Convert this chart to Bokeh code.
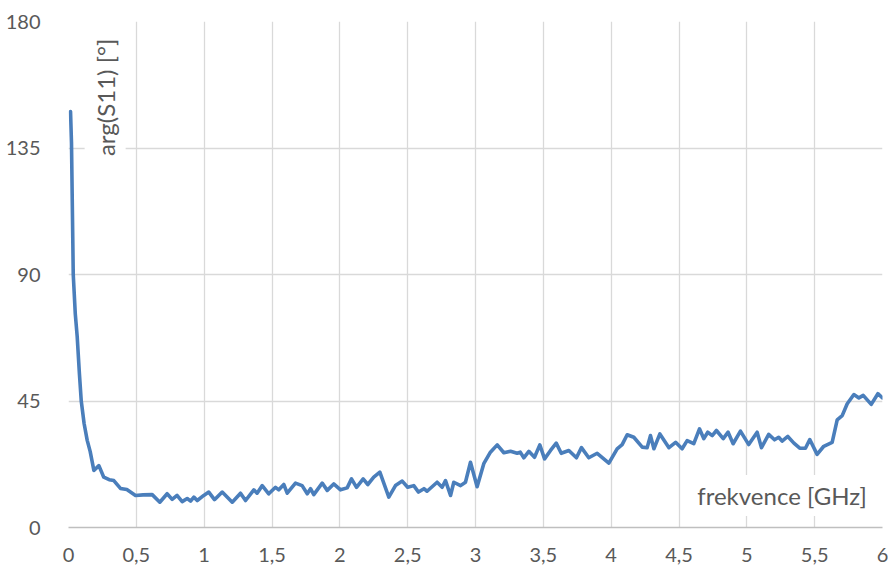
import math
from bokeh.plotting import figure
from bokeh.models import Label, FixedTicker, Range1d, ColumnDataSource
from bokeh.embed import file_html
from bokeh.resources import INLINE

# frequency [GHz]
freq = [0.015, 0.022, 0.035, 0.05, 0.064, 0.08, 0.094, 0.115, 0.138, 0.16, 0.187, 0.224,
        0.26, 0.3, 0.334, 0.383, 0.43, 0.494, 0.55, 0.617, 0.673, 0.727, 0.764, 0.80,
        0.838, 0.875, 0.9, 0.924, 0.949, 0.997, 1.034, 1.076, 1.133, 1.207, 1.268, 1.305,
        1.366, 1.39, 1.428, 1.476, 1.526, 1.55, 1.587, 1.612, 1.673, 1.722, 1.76, 1.784,
        1.808, 1.87, 1.907, 1.955, 2.005, 2.054, 2.086, 2.123, 2.172, 2.206, 2.25, 2.295,
        2.361, 2.41, 2.46, 2.5, 2.545, 2.58, 2.62, 2.643, 2.717, 2.754, 2.779, 2.816,
        2.84, 2.89, 2.926, 2.963, 3.012, 3.061, 3.11, 3.16, 3.209, 3.258, 3.307, 3.33,
        3.356, 3.393, 3.435, 3.474, 3.509, 3.553, 3.595, 3.632, 3.688, 3.744, 3.781, 3.835,
        3.897, 3.983, 4.044, 4.081, 4.118, 4.167, 4.229, 4.265, 4.29, 4.315, 4.359, 4.426,
        4.475, 4.523, 4.56, 4.609, 4.651, 4.683, 4.712, 4.745, 4.776, 4.826, 4.862, 4.899,
        4.953, 5.014, 5.076, 5.108, 5.161, 5.204, 5.235, 5.26, 5.302, 5.347, 5.39, 5.432,
        5.464, 5.518, 5.567, 5.629, 5.666, 5.703, 5.74, 5.789, 5.826, 5.858, 5.917, 5.966, 6.0]

# arg(S11) [deg]
phase = [148, 137, 90, 76, 68, 55, 45, 37, 31, 27, 20.3, 22,
         17.9, 17, 16.7, 13.9, 13.5, 11.4, 11.6, 11.7, 9, 12, 10, 11.4,
         9.2, 10.3, 9.4, 10.8, 9.6, 11.4, 12.6, 9.9, 12.6, 9, 12.2, 9.6,
         13.4, 12.2, 14.9, 12, 14.3, 13.4, 15.3, 12.2, 15.8, 14.9, 12, 13.8,
         11.7, 15.8, 13.2, 15.5, 13.4, 14.1, 17.3, 14.3, 17.3, 15.3, 17.9, 19.7,
         10.8, 14.9, 16.5, 14.3, 14.9, 12.6, 13.8, 12.9, 16.1, 14.3, 16.7, 11.4,
         16.1, 14.9, 16.1, 23.2, 14.5, 22.7, 26.8, 29.4, 26.6, 27.1, 26.4, 26.8,
         24.8, 27.1, 25, 29.4, 24.4, 27.4, 30, 26.4, 27.4, 24.8, 28.4, 24.8,
         26.4, 22.9, 28, 29.5, 33, 32.1, 28.6, 28.4, 32.7, 28, 33.3, 28.4,
         30.3, 28, 30.9, 29.8, 35.1, 31.6, 33.9, 32.7, 34.5, 31.6, 33.9, 29.8,
         34.3, 29.5, 33.9, 28.4, 33.1, 31.2, 32.1, 30.7, 32.4, 30, 28.2, 28.2,
         31.3, 26, 28.9, 30.3, 38.3, 39.8, 44, 47.3, 46.1, 47, 43.8, 47.6, 46.1]

x_ticks = [0, 0.5, 1, 1.5, 2, 2.5, 3, 3.5, 4, 4.5, 5, 5.5, 6]
x_tick_labels = ["0", "0,5", "1", "1,5", "2", "2,5", "3", "3,5", "4", "4,5", "5", "5,5", "6"]
y_ticks = [0, 45, 90, 135, 180]
y_title = "arg(S11) [°]"
x_title = "frekvence [GHz]"

FONT = "Lato"
TXT = "#595959"

p = figure(width=888, height=565, output_backend="svg", toolbar_location=None,
           x_range=Range1d(0, 6), y_range=Range1d(0, 180),
           frame_width=814, frame_height=506,
           min_border_left=68, min_border_right=6, min_border_top=21, min_border_bottom=38)
p.outline_line_color = None
p.background_fill_color = "white"
p.border_fill_color = "white"

src = ColumnDataSource(dict(x=freq, y=phase))
p.line("x", "y", source=src, line_color="#4a7ebb", line_width=3.6,
       line_join="round", line_cap="round")

# axes
p.xaxis.ticker = FixedTicker(ticks=x_ticks)
p.xaxis.major_label_overrides = {t: l for t, l in zip(x_ticks, x_tick_labels)}
p.yaxis.ticker = FixedTicker(ticks=y_ticks)
for ax in (p.xaxis, p.yaxis):
    ax.major_tick_line_color = None
    ax.minor_tick_line_color = None
    ax.major_label_text_font = FONT
    ax.major_label_text_font_size = "20px"
    ax.major_label_text_color = TXT
p.yaxis.axis_line_color = None
p.yaxis.major_label_standoff = 22
p.xaxis.axis_line_color = "#bfbfbf"
p.xaxis.axis_line_width = 1.3
p.xaxis.major_label_standoff = 14

p.xgrid.ticker = FixedTicker(ticks=x_ticks)
p.ygrid.ticker = FixedTicker(ticks=y_ticks)
p.grid.grid_line_color = "#d9d9d9"
p.grid.grid_line_width = 1.3

# axis titles inside plot
p.add_layout(Label(x=0.27, y=153, text=y_title, angle=math.pi / 2,
                   text_align="center", text_baseline="middle",
                   text_font=FONT, text_font_size="24px", text_color=TXT,
                   background_fill_color="white", padding=6))
p.add_layout(Label(x=5.26, y=11.4, text=x_title,
                   text_align="center", text_baseline="middle",
                   text_font=FONT, text_font_size="24px", text_color=TXT,
                   background_fill_color="white", padding=6))

open("out.html", "w").write(file_html(p, INLINE))
